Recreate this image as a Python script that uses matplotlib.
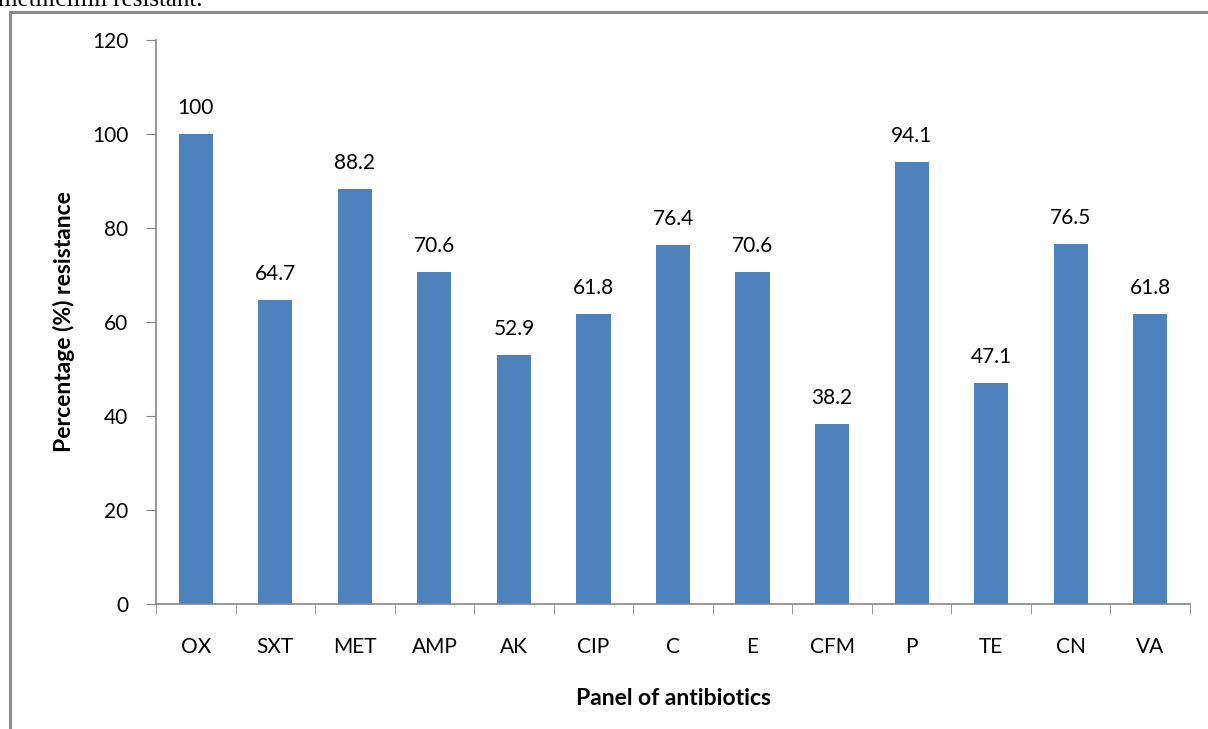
import matplotlib.pyplot as plt
from matplotlib.lines import Line2D
import numpy as np

antibiotics = ['OX', 'SXT', 'MET', 'AMP', 'AK', 'CIP', 'C', 'E', 'CFM', 'P', 'TE', 'CN', 'VA']
resistance = [100, 64.7, 88.2, 70.6, 52.9, 61.8, 76.4, 70.6, 38.2, 94.1, 47.1, 76.5, 61.8]
value_labels = ['100', '64.7', '88.2', '70.6', '52.9', '61.8', '76.4', '70.6', '38.2', '94.1', '47.1', '76.5', '61.8']

W, H = 1208, 729
fig = plt.figure(figsize=(W / 100, H / 100), dpi=100)
plt.rcParams['font.family'] = ['Lato', 'DejaVu Sans']

# axes box in pixels: x 156..1190, y 40..604
left, right, top, bottom = 156, 1190, 40, 604
ax = fig.add_axes([left / W, 1 - bottom / H, (right - left) / W, (bottom - top) / H])

x = np.arange(len(antibiotics))
ax.bar(x, resistance, width=0.43, color='#4f81bd', zorder=2)
for xi, v, lab in zip(x, resistance, value_labels):
    ax.text(xi, v + 3.4, lab, ha='center', va='bottom', fontsize=15, color='black')

ax.set_xlim(-0.5, len(antibiotics) - 0.5)
ax.set_ylim(0, 120)
ax.set_yticks(range(0, 121, 20))
ax.set_xticks(x)
ax.set_xticklabels(antibiotics, fontsize=15)
ax.set_xticks(np.arange(-0.5, len(antibiotics), 1), minor=True)
ax.tick_params(axis='x', which='major', length=0, pad=24)
ax.tick_params(axis='x', which='minor', length=7, color='#868686', direction='out')
ax.tick_params(axis='y', length=7, color='#868686', labelsize=15, pad=13)

for s in ['top', 'right']:
    ax.spines[s].set_visible(False)
for s in ['left', 'bottom']:
    ax.spines[s].set_color('#868686')
    ax.spines[s].set_linewidth(1.2)

ax.set_ylabel('Percentage (%) resistance', fontsize=16.5, fontweight='bold', labelpad=12)
ax.set_xlabel('Panel of antibiotics', fontsize=16.5, fontweight='bold', labelpad=22)

# frame lines of the embedded figure
fig.add_artist(Line2D([10 / W, 10 / W], [0, 1 - 12 / H], color='#8c8c8c', lw=2.2))
fig.add_artist(Line2D([10 / W, 1], [1 - 12 / H, 1 - 12 / H], color='#8c8c8c', lw=2.2))

# cut-off caption at the very top
fig.text(-0.002, 1 - 6 / H, 'methicillin resistant.', fontsize=18, family='Liberation Serif',
         ha='left', va='baseline')

fig.savefig('out.png', dpi=100)
